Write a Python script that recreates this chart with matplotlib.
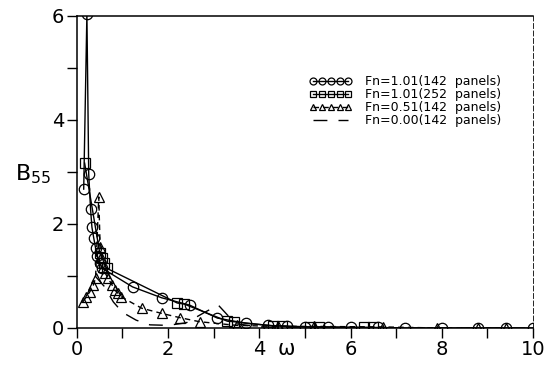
import matplotlib
matplotlib.use("Agg")
import matplotlib.pyplot as plt
from matplotlib.ticker import MultipleLocator

# Fn = 1.01, 142 panels
w_c = [0.15, 0.22, 0.26, 0.30, 0.33, 0.37, 0.41, 0.45, 0.50, 0.55, 1.22, 1.86,
       2.47, 3.08, 3.70, 4.20, 4.60, 5.00, 5.50, 6.00, 6.60, 7.20, 8.00, 8.80,
       9.40, 10.0]
b_c = [2.67, 6.04, 2.96, 2.29, 1.94, 1.73, 1.54, 1.38, 1.25, 1.15, 0.79, 0.58,
       0.44, 0.19, 0.09, 0.05, 0.03, 0.02, 0.02, 0.01, 0.01, 0.0, 0.0, 0.0,
       0.0, 0.0]

# Fn = 1.01, 252 panels
w_s = [0.17, 0.50, 0.55, 0.60, 0.65, 2.20, 2.35, 3.30, 3.45, 4.30, 4.50, 5.10,
       5.30, 6.30, 6.50]
b_s = [3.17, 1.45, 1.35, 1.25, 1.15, 0.48, 0.46, 0.13, 0.12, 0.04, 0.04, 0.02,
       0.02, 0.01, 0.01]

# Fn = 0.51, 142 panels
w_t = [0.13, 0.21, 0.28, 0.36, 0.41, 0.48, 0.51, 0.54, 0.57, 0.62, 0.68, 0.77,
       0.83, 0.90, 0.97, 1.42, 1.86, 2.25, 2.69, 3.50, 4.40, 5.20, 6.70, 7.90,
       8.80, 9.40]
b_t = [0.50, 0.60, 0.69, 0.82, 0.96, 2.52, 1.56, 1.37, 1.17, 1.06, 0.96, 0.83,
       0.73, 0.67, 0.60, 0.38, 0.28, 0.20, 0.12, 0.05, 0.03, 0.03, 0.02, 0.0,
       0.0, 0.0]

# Fn = 0.00, 142 panels
w_0 = [0.40, 0.60, 0.80, 1.00, 1.30, 1.60, 2.00, 2.40, 2.80, 3.10, 3.30, 3.50,
       4.00, 5.00, 6.00, 8.00, 10.0]
b_0 = [1.00, 0.80, 0.50, 0.30, 0.15, 0.06, 0.05, 0.10, 0.30, 0.44, 0.25, 0.08,
       0.02, 0.0, 0.0, 0.0, 0.0]

labels = ["Fn=1.01(142  panels)", "Fn=1.01(252  panels)",
          "Fn=0.51(142  panels)", "Fn=0.00(142  panels)"]

fig = plt.figure(figsize=(5.49, 3.71), dpi=100)
ax = fig.add_axes([0.140, 0.116, 0.831, 0.841])

ms = 7.5
ax.plot(w_c, b_c, color="black", lw=1.0, marker="o", ms=ms, mfc="none",
        mew=0.9, label=labels[0])
ax.plot(w_s, b_s, color="black", lw=1.0, marker="s", ms=ms - 1, mfc="none",
        mew=0.9, label=labels[1])
ax.plot(w_t, b_t, color="black", lw=1.0, ls=(0, (4, 3)), marker="^", ms=ms - 0.5,
        mfc="none", mew=0.9, label=labels[2])
ax.plot(w_0, b_0, color="black", lw=1.0, ls=(0, (10, 8)), label=labels[3])

ax.set_xlim(0, 10)
ax.set_ylim(0, 6)
ax.xaxis.set_major_locator(MultipleLocator(2))
ax.xaxis.set_minor_locator(MultipleLocator(1))
ax.yaxis.set_major_locator(MultipleLocator(2))
ax.yaxis.set_minor_locator(MultipleLocator(1))
ax.tick_params(which="both", direction="out", length=7, width=1.0,
               labelsize=14, pad=2, colors="black")
ax.spines["right"].set_linestyle((0, (6, 3)))
ax.spines["right"].set_linewidth(0.6)
for s in ("left", "bottom", "top"):
    ax.spines[s].set_linewidth(1.1)

fig.text(0.06, 0.53, r"B$_{55}$", fontsize=16, ha="center", va="center")
ax.text(4.4, -0.22, "ω", fontsize=15, ha="left", va="top")

leg = ax.legend(loc="upper left", bbox_to_anchor=(0.51, 0.81), frameon=False,
                fontsize=9, numpoints=5, handlelength=3.4, handletextpad=1.0,
                labelspacing=0.0, borderaxespad=0.0, borderpad=0.0)
for h in leg.legend_handles:
    h.set_markersize(5)

fig.savefig("out.png", dpi=100)
